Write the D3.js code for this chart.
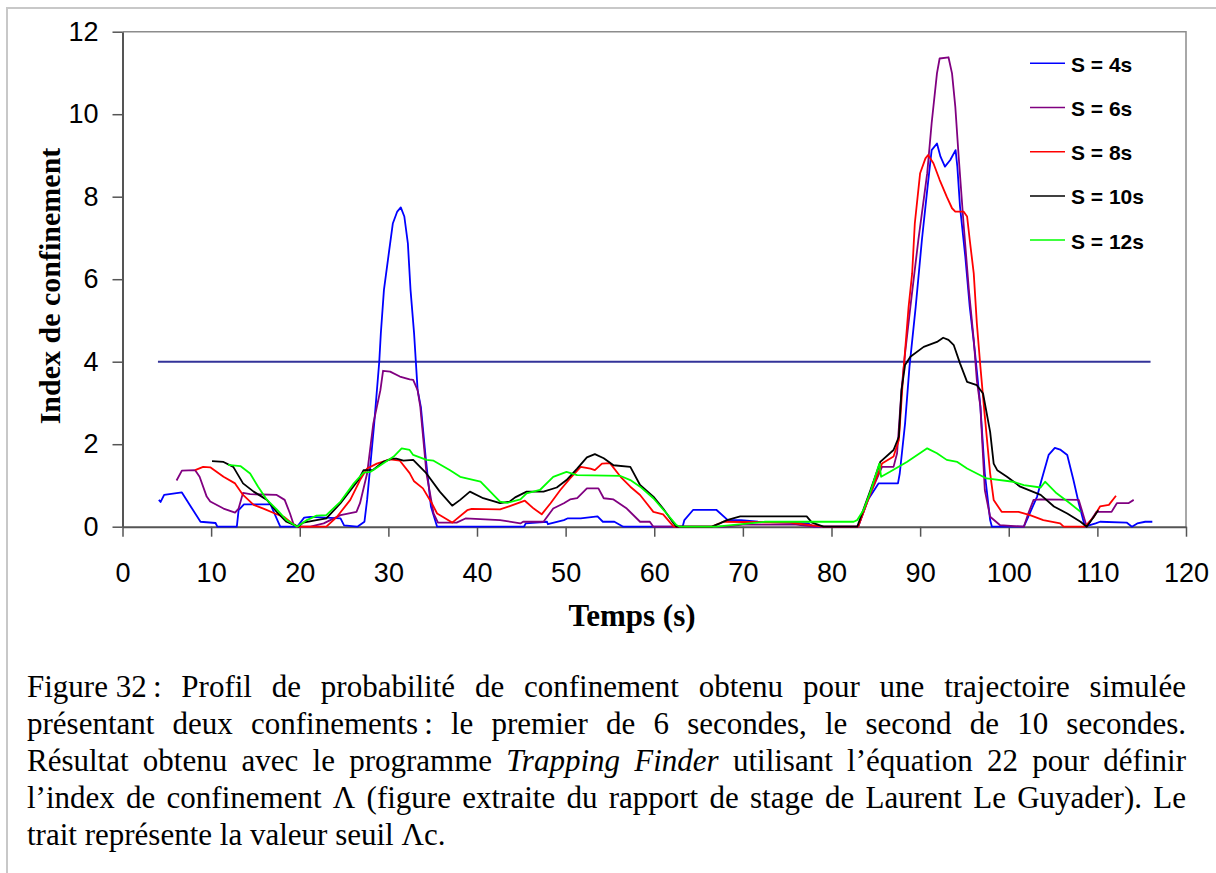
<!DOCTYPE html>
<html>
<head>
<meta charset="utf-8">
<title>Index de confinement</title>
<script src="https://d3js.org/d3.v7.min.js"></script>
<style>
  body { margin: 0; background: #fff; }
  svg { display: block; }
</style>
</head>
<body>
<svg id="canvas"></svg>
<script>
var width = 1216, height = 873;

// series: [temps (s), index]
var s4 = [[4.1,0.65],[4.3,0.6],[4.7,0.77],[6.7,0.83],[7.7,0.49],[8.8,0.12],[10.5,0.09],[10.7,0],[12.9,0],[13.1,0.4],[13.7,0.54],[16.7,0.54],[17.5,0.15],[17.8,0],[19.7,0],[20.5,0.22],[21.2,0.24],[24.6,0.2],[25,0.03],[26.5,0],[27.3,0.12],[27.6,0.65],[28.4,2.5],[28.97,4.0],[29.15,4.69],[29.5,5.74],[30.1,6.71],[30.5,7.35],[31.0,7.64],[31.4,7.74],[31.8,7.52],[32.2,6.87],[32.5,5.74],[32.9,4.69],[33.1,4.0],[33.3,3.31],[33.67,2.9],[34.2,1.7],[34.8,0.49],[35.5,0],[45.3,0],[45.5,0.08],[47.9,0.12],[48.0,0.06],[49.8,0.16],[50.2,0.2],[51.7,0.2],[53.6,0.25],[54.2,0.12],[55.5,0.12],[56.5,0],[63.2,0],[63.4,0.16],[64.4,0.41],[67.0,0.41],[68.3,0.16],[69.8,0.16],[71.7,0.12],[77.4,0.08],[78,0],[83.0,0],[84.1,0.65],[85.3,1.05],[87.5,1.05],[87.7,1.29],[88.3,2.5],[88.8,3.88],[89.5,5.33],[90.2,6.95],[90.8,8.16],[91.3,9.13],[91.9,9.29],[92.3,8.97],[92.8,8.73],[93.4,8.89],[94.0,9.13],[94.2,8.73],[94.5,7.76],[95.1,6.54],[95.6,5.33],[96.2,4.2],[96.8,2.91],[97.3,1.29],[97.9,0.16],[98.1,0],[101.7,0],[102.2,0.24],[103.2,0.73],[103.7,1.13],[104.5,1.74],[105.2,1.91],[105.8,1.87],[106.6,1.74],[107.3,1.13],[107.9,0.57],[108.6,0],[109.8,0.08],[110.3,0.12],[113.3,0.1],[113.9,0],[114.5,0.08],[115.4,0.12],[116.2,0.12]];
var s6 = [[6.1,1.12],[6.7,1.36],[8.2,1.37],[8.7,1.21],[9.5,0.73],[9.9,0.61],[11.4,0.44],[12.7,0.34],[13.1,0.44],[13.6,0.82],[14.4,0.79],[17.4,0.77],[18.3,0.65],[18.9,0.32],[19.3,0.06],[19.8,0],[21.2,0],[22.7,0.08],[24.6,0.28],[26.4,0.36],[26.8,0.57],[27.6,1.29],[28.3,2.5],[29.1,3.31],[29.4,3.78],[30.2,3.76],[31.3,3.64],[32.4,3.57],[32.8,3.56],[33.3,3.31],[33.6,2.91],[34.3,1.29],[35.1,0.32],[35.6,0.1],[37.7,0.1],[38.7,0.2],[42.6,0.16],[44.9,0.08],[45.2,0.12],[47.5,0.12],[48.6,0.44],[49.8,0.57],[50.5,0.66],[51.3,0.69],[52.4,0.93],[53.7,0.93],[54.3,0.69],[55.4,0.66],[56.9,0.44],[58.4,0.12],[59.5,0.12],[59.9,0],[68,0],[70,0.05],[76,0.05],[78,0],[83.0,0],[84.4,0.81],[85.7,1.45],[87.0,1.45],[87.4,1.78],[87.9,3.31],[88.3,4.2],[88.9,5.33],[89.8,6.95],[90.8,8.57],[91.3,9.78],[91.9,10.99],[92.2,11.35],[93.2,11.38],[93.6,10.99],[93.97,10.18],[94.35,8.97],[94.9,7.35],[95.5,5.74],[96.05,4.53],[96.4,3.55],[96.8,2.91],[97.3,0.89],[97.9,0.24],[99.0,0.04],[101.7,0],[102.2,0.32],[102.8,0.65],[103.6,0.66],[107.9,0.65],[108.8,0],[109.9,0.36],[111.6,0.36],[112.2,0.57],[113.5,0.57],[114.1,0.65]];
var s8 = [[8.2,1.37],[9.1,1.45],[9.9,1.44],[11.4,1.21],[12.7,1.05],[13.6,0.77],[14.8,0.53],[15.9,0.44],[17.2,0.32],[18.2,0.24],[18.9,0.12],[19.7,0],[23.0,0],[24.2,0.24],[25.7,0.65],[26.8,1.13],[27.6,1.41],[28.7,1.53],[30.2,1.63],[31.3,1.6],[32.4,1.3],[32.9,1.1],[33.9,0.93],[34.9,0.57],[35.5,0.32],[37.2,0.1],[38.9,0.4],[39.4,0.43],[42.6,0.42],[43.7,0.5],[45.4,0.63],[46.4,0.44],[47.3,0.3],[48.3,0.57],[49.4,0.89],[50.5,1.17],[51.7,1.45],[52.8,1.41],[53.3,1.37],[54.1,1.53],[55.0,1.54],[56.2,1.21],[57.3,0.97],[58.4,0.77],[59.9,0.36],[61.0,0.3],[61.8,0.1],[62.2,0],[66.5,0],[67.8,0.12],[75.3,0.1],[79.1,0],[83.0,0],[84.4,0.81],[85.7,1.53],[87.0,1.7],[87.6,2.1],[88.1,3.72],[88.7,5.33],[89.1,6.14],[89.4,7.35],[90.0,8.57],[90.6,8.93],[90.9,9.01],[91.5,8.81],[92.2,8.41],[93.0,8.0],[93.6,7.72],[93.97,7.64],[94.9,7.64],[95.3,7.52],[95.6,6.95],[96.05,6.14],[96.4,4.93],[96.8,3.88],[97.2,2.91],[97.9,1.29],[98.3,0.65],[99.2,0.36],[101.1,0.36],[102.4,0.28],[103.9,0.16],[105.8,0.08],[106.2,0],[108.6,0],[109.6,0.24],[110.3,0.49],[111.3,0.53],[112.1,0.75]];
var s10 = [[10.1,1.59],[11.4,1.57],[12.5,1.45],[13.6,1.05],[14.8,0.85],[16.3,0.65],[17.4,0.36],[18.5,0.12],[19.8,0],[20.4,0.1],[21.9,0.16],[23.0,0.2],[24.6,0.57],[26.6,1.13],[27.2,1.37],[28.3,1.38],[29.4,1.57],[30.4,1.65],[30.9,1.65],[31.7,1.6],[32.8,1.62],[34.3,1.29],[35.8,0.85],[37.2,0.51],[38.1,0.65],[39.2,0.85],[40.7,0.69],[42.6,0.57],[43.7,0.61],[44.3,0.71],[45.6,0.85],[47.5,0.85],[49.0,0.95],[50.1,1.13],[51.3,1.41],[52.4,1.68],[53.3,1.76],[54.3,1.66],[55.4,1.49],[57.3,1.45],[58.4,1.01],[59.9,0.73],[61.0,0.44],[62.2,0.08],[62.5,0],[66.5,0],[67.4,0.08],[68.2,0.16],[69.7,0.25],[77.2,0.25],[77.8,0.1],[79.1,0],[82.9,0],[84.4,0.89],[85.5,1.57],[87.0,1.86],[87.6,2.18],[87.9,3.31],[88.3,3.92],[88.9,4.12],[90.4,4.36],[91.9,4.48],[92.6,4.58],[93.2,4.53],[93.8,4.4],[94.5,3.96],[95.3,3.51],[96.4,3.43],[97.1,3.23],[97.9,2.3],[98.3,1.53],[98.7,1.37],[99.8,1.21],[101.3,0.97],[103.6,0.77],[105.1,0.49],[106.6,0.32],[108.1,0.12],[108.8,0],[109.6,0.24],[110.1,0.4]];
var s12 = [[11.9,1.5],[13.3,1.47],[14.4,1.29],[15.3,0.97],[16.3,0.65],[17.4,0.42],[18.5,0.16],[19.7,0],[20.8,0.16],[21.9,0.27],[23.0,0.28],[24.6,0.61],[26.1,1.05],[27.2,1.31],[28.0,1.33],[29.4,1.53],[30.6,1.7],[31.5,1.9],[32.4,1.86],[32.8,1.74],[34.3,1.62],[35.1,1.6],[36.96,1.37],[38.1,1.21],[40.4,1.09],[41.5,0.85],[42.6,0.61],[43.4,0.58],[44.9,0.66],[45.6,0.81],[47.1,0.89],[48.6,1.21],[50.1,1.33],[51.3,1.25],[56.2,1.23],[57.3,1.13],[58.4,0.97],[59.9,0.69],[61.4,0.32],[62.5,0.04],[62.9,0],[67,0],[71.6,0.1],[72.5,0.12],[82.5,0.12],[82.9,0.16],[83.6,0.4],[84.4,0.85],[85.4,1.53],[85.6,1.21],[86.6,1.33],[88.5,1.57],[90.8,1.9],[91.9,1.78],[93.0,1.62],[94.2,1.57],[95.3,1.41],[96.4,1.29],[97.5,1.17],[100.5,1.09],[101.7,1.01],[103.6,0.95],[104.1,1.09],[105.4,0.81],[106.9,0.57],[108.1,0.36]];

var seriesNames = ["S = 4s", "S = 6s", "S = 8s", "S = 10s", "S = 12s"];
var seriesColors = ["#0000ff", "#800080", "#ff0000", "#000000", "#00ff00"];
var allSeries = [s4, s6, s8, s10, s12];

// seuil Λc
var threshold = 4, thresholdRange = [4, 116];

var xTicks = d3.range(0, 121, 10);
var yTicks = d3.range(0, 13, 2);

// caption lines (justified except the last one)
var captionLines = [
  [["Figure 32\u202F:"],["Profil"],["de"],["probabilité"],["de"],["confinement"],["obtenu"],["pour"],["une"],["trajectoire"],["simulée"]],
  [["présentant"],["deux"],["confinements\u202F:"],["le"],["premier"],["de"],["6"],["secondes,"],["le"],["second"],["de"],["10"],["secondes."]],
  [["Résultat"],["obtenu"],["avec"],["le"],["programme"],["Trapping", 1],["Finder", 1],["utilisant"],["l’équation"],["22"],["pour"],["définir"]],
  [["l’index"],["de"],["confinement"],["Λ"],["(figure"],["extraite"],["du"],["rapport"],["de"],["stage"],["de"],["Laurent"],["Le"],["Guyader)."],["Le"]],
  [["trait"],["représente"],["la"],["valeur"],["seuil"],["Λc."]]
];

var svg = d3.select("#canvas")
    .attr("width", width)
    .attr("height", height);

// figure frame
svg.append("path")
    .attr("d", "M7," + height + "V8H" + width)
    .attr("fill", "none")
    .attr("stroke", "#c8c8c8")
    .attr("stroke-width", 2);

var x = d3.scaleLinear().domain([0, 120]).range([122.5, 1186]);
var y = d3.scaleLinear().domain([0, 12]).range([526.7, 31.7]);

// plot area border (top + right)
svg.append("path")
    .attr("d", "M" + x(0) + "," + y(12) + "H" + x(120) + "V" + y(0))
    .attr("fill", "none")
    .attr("stroke", "#8c8c8c")
    .attr("stroke-width", 1.5);

// axes
var xAxis = svg.append("g")
    .attr("transform", "translate(0," + y(0) + ")")
    .call(d3.axisBottom(x).tickValues(xTicks).tickSize(10).tickPadding(26).tickSizeOuter(0));
var yAxis = svg.append("g")
    .attr("transform", "translate(" + x(0) + ",0)")
    .call(d3.axisLeft(y).tickValues(yTicks).tickSize(10).tickPadding(14).tickSizeOuter(0));

[xAxis, yAxis].forEach(function(g) {
  g.select(".domain").attr("stroke", "#555").attr("stroke-width", 2);
  g.selectAll(".tick line").attr("stroke", "#555").attr("stroke-width", 1.5);
  g.selectAll(".tick text")
    .attr("fill", "#000")
    .style("font-family", "'Liberation Sans', Arial, sans-serif")
    .style("font-size", "27px");
});

// threshold line
svg.append("line")
    .attr("x1", x(thresholdRange[0]))
    .attr("x2", x(thresholdRange[1]))
    .attr("y1", y(threshold))
    .attr("y2", y(threshold))
    .attr("stroke", "#333399")
    .attr("stroke-width", 2);

// curves
var line = d3.line()
    .x(function(d) { return x(d[0]); })
    .y(function(d) { return y(d[1]); });

for (var i = 0; i < allSeries.length; i++) {
  svg.append("path")
    .datum(allSeries[i])
    .attr("d", line)
    .attr("fill", "none")
    .attr("stroke", seriesColors[i])
    .attr("stroke-width", 1.8)
    .attr("stroke-linejoin", "round");
}

// axis titles
svg.append("text")
    .text("Index de confinement")
    .attr("transform", "translate(60,286) rotate(-90)")
    .attr("text-anchor", "middle")
    .style("font-family", "'Liberation Serif', 'Times New Roman', serif")
    .style("font-weight", "bold")
    .style("font-size", "30px");
svg.append("text")
    .text("Temps (s)")
    .attr("x", 632)
    .attr("y", 626)
    .attr("text-anchor", "middle")
    .style("font-family", "'Liberation Serif', 'Times New Roman', serif")
    .style("font-weight", "bold")
    .style("font-size", "31px");

// legend
var legend = svg.append("g");
for (i = 0; i < seriesNames.length; i++) {
  var ly = 63.3 + 44.2 * i;
  legend.append("line")
    .attr("x1", 1030).attr("x2", 1065)
    .attr("y1", ly).attr("y2", ly)
    .attr("stroke", seriesColors[i])
    .attr("stroke-width", 1.5);
  legend.append("text")
    .text(seriesNames[i])
    .attr("x", 1071)
    .attr("y", ly + 8.4)
    .style("font-family", "'Liberation Sans', Arial, sans-serif")
    .style("font-weight", "bold")
    .style("font-size", "21px");
}

// caption, justified word by word
var capLeft = 27, capRight = 1186, capTop = 697, capStep = 37;
var caption = svg.append("g")
    .style("font-family", "'Liberation Serif', 'Times New Roman', serif")
    .style("font-size", "31px");

captionLines.forEach(function(words, li) {
  var by = capTop + capStep * li;
  var nodes = words.map(function(w) {
    return caption.append("text")
      .text(w[0])
      .attr("y", by)
      .style("font-style", w[1] ? "italic" : "normal");
  });
  var widths = nodes.map(function(n) { return n.node().getComputedTextLength(); });
  var total = d3.sum(widths);
  var gap = 7.75;
  if (li < captionLines.length - 1) gap = (capRight - capLeft - total) / (words.length - 1);
  var cx = capLeft;
  nodes.forEach(function(n, k) {
    n.attr("x", cx);
    cx += widths[k] + gap;
  });
});
</script>
</body>
</html>
